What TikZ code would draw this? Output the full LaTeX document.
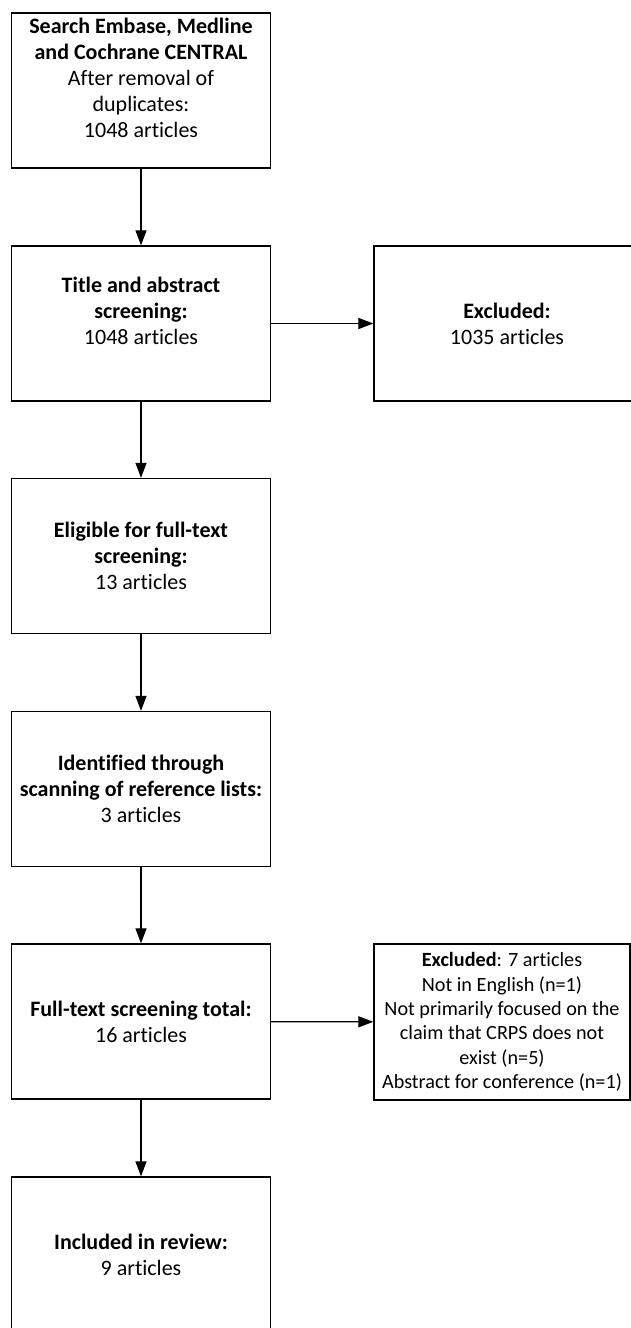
\documentclass[tikz,border=0pt]{standalone}
\usepackage{fontspec}
\setmainfont[Ligatures=NoCommon]{Carlito}
\usetikzlibrary{arrows.meta}
\begin{document}
\begin{tikzpicture}[x=1pt,y=-1pt,
  box/.style={draw=black, line width=1.3pt, minimum width=259pt, minimum height=155pt,
    align=center, inner sep=0pt, font=\fontsize{22}{26}\selectfont},
  exbox/.style={draw=black, line width=1.3pt, minimum width=256pt, minimum height=156pt,
    align=center, inner sep=0pt, font=\fontsize{20.2}{24.4}\selectfont},
  arr/.style={draw=black, line width=1.2pt, -{Triangle[length=15pt,width=11pt]}}]
\clip (0,0) rectangle (631,1328);
\node[box] (b1) at (141,90.5) {\textbf{Search Embase, Medline}\\\textbf{and Cochrane CENTRAL}\\After removal of\\duplicates:\\1048 articles\\~};
\node[box] (b2) at (141,323.5) {\textbf{Title and abstract}\\\textbf{screening:}\\1048 articles\\~};
\node[box] (b3) at (141,556) {\textbf{Eligible for full-text}\\\textbf{screening:}\\13 articles};
\node[box] (b4) at (141,789) {\textbf{Identified through}\\\textbf{scanning of reference lists:}\\3 articles};
\node[box] (b5) at (141,1021.5) {\textbf{Full-text screening total:}\\16 articles};
\node[box, minimum height=155pt] (b6) at (141,1254.5) {\textbf{Included in review:}\\9 articles};
\node[box, minimum width=266pt] (e1) at (507,323.5) {\textbf{Excluded:}\\1035 articles};
\node[exbox] (e2) at (502,1022) {\textbf{Excluded}: 7 articles\\Not in English (n=1)\\Not primarily focused on the\\claim that CRPS does not\\exist (n=5)\\Abstract for conference (n=1)};
\draw[arr] (b1) -- (b2);
\draw[arr] (b2) -- (b3);
\draw[arr] (b3) -- (b4);
\draw[arr] (b4) -- (b5);
\draw[arr] (b5) -- (b6);
\draw[arr] (b2) -- (e1);
\draw[arr] (b5) -- (e2);
\end{tikzpicture}
\end{document}
